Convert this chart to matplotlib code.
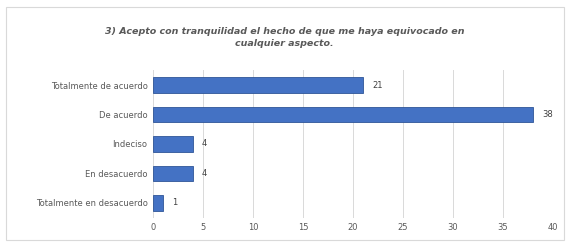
import matplotlib.pyplot as plt
from matplotlib.patches import Rectangle

categorias = ["Totalmente de acuerdo", "De acuerdo", "Indeciso", "En desacuerdo", "Totalmente en desacuerdo"]
valores = [21, 38, 4, 4, 1]
ticks_x = [0, 5, 10, 15, 20, 25, 30, 35, 40]

fig = plt.figure(figsize=(5.69, 2.44), dpi=100)
fig.patch.set_facecolor("white")

# marco del gráfico
fig.patches.append(Rectangle((0.010, 0.015), 0.982, 0.955, transform=fig.transFigure,
                             fill=False, edgecolor="#d9d9d9", linewidth=0.8))

ax = fig.add_axes([0.269, 0.108, 0.703, 0.604])
pos = list(range(len(categorias)))
ax.barh(pos, valores, height=0.52, color="#4472C4", edgecolor="#2f5597", linewidth=0.6, zorder=3)
for p, v in zip(pos, valores):
    ax.text(v + 0.9, p, str(v), va="center", ha="left", fontsize=6, color="#404040")

ax.set_yticks(pos)
ax.set_yticklabels(categorias, fontsize=6, color="#595959")
ax.set_ylim(len(categorias) - 0.5, -0.5)
ax.set_xlim(0, 40)
ax.set_xticks(ticks_x)
ax.set_xticklabels([str(t) for t in ticks_x], fontsize=6, color="#595959")
ax.tick_params(length=0, pad=4)
ax.xaxis.grid(True, color="#d9d9d9", linewidth=0.7, zorder=0)
for s in ax.spines.values():
    s.set_visible(False)

fig.text(0.5, 0.845, "3) Acepto con tranquilidad el hecho de que me haya equivocado en\ncualquier aspecto.",
         ha="center", va="center", fontsize=6.8, fontweight="bold", fontstyle="italic",
         color="#595959", linespacing=1.45)

plt.savefig("out.png", dpi=100)
